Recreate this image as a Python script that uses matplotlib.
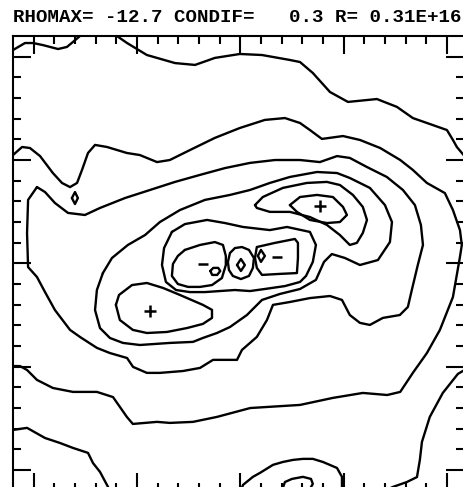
import matplotlib
matplotlib.use('Agg')
import matplotlib.pyplot as plt
from matplotlib.ticker import FixedLocator

# Map header values
rhomax = -12.7
condif = 0.3
r_scale = 0.31

# Map extent in grid units (one tick per grid point, x across, y down)
x_extent = 21.85
y_extent = 22.0

# Contour paths digitised in grid units, (x, y) pairs
corner_lobe = [(0, 0.68), (0.58, 0.34), (0.97, 0.34), (1.45, 0.44), (2.18, 0.63), (2.61, 0.53), (2.90, 0.29), (3.24, 0)]
top_contour = [(5.03, 0), (5.52, 0.34), (6.00, 0.63), (6.48, 0.92), (6.97, 1.06), (7.84, 1.31), (8.81, 1.40),
               (9.77, 1.06), (10.98, 0.87), (12.05, 0.92), (13.40, 1.16), (13.89, 1.26), (14.51, 1.79),
               (15.34, 2.71), (16.21, 3.19), (17.61, 3.05), (18.58, 3.43), (19.35, 3.97), (20.32, 4.31),
               (21.00, 4.55), (21.29, 5.03), (21.48, 5.37), (21.85, 5.81)]
outer_contour = [(0, 5.76), (0.44, 5.37), (0.82, 5.42), (1.31, 5.81), (1.93, 6.63), (2.37, 7.11), (2.76, 7.31),
                 (3.10, 7.11), (3.34, 6.48), (3.63, 5.66), (3.97, 5.27), (4.55, 5.37), (5.51, 5.66), (6.14, 5.76),
                 (6.97, 6.10), (7.59, 6.00), (8.56, 5.52), (9.77, 4.93), (10.98, 4.45), (12.19, 4.06),
                 (13.16, 3.97), (13.89, 4.21), (14.37, 4.55), (14.95, 4.98), (15.97, 4.84), (16.79, 5.03),
                 (17.77, 5.42), (18.74, 6.00), (19.35, 6.48), (20.03, 7.11), (20.90, 7.60), (21.29, 8.42),
                 (21.63, 9.39), (21.72, 10.11), (21.63, 10.69), (21.29, 12.63), (20.66, 14.22), (20.03, 15.34),
                 (19.35, 16.30), (18.74, 17.22), (18.11, 17.37), (16.93, 17.27), (15.48, 17.51), (13.89, 17.85),
                 (11.48, 18.00), (9.87, 18.43), (8.71, 18.67), (7.59, 18.72), (6.97, 18.67), (5.80, 18.77),
                 (5.51, 18.43), (4.84, 17.47), (4.06, 17.22), (2.90, 17.22), (1.93, 17.03), (1.16, 16.64),
                 (0.68, 16.16), (0.34, 15.97), (0, 15.97)]
right_low = [(21.85, 16.16), (21.53, 16.35), (20.80, 17.27), (20.17, 18.43), (19.79, 19.64), (19.69, 20.51),
             (19.55, 21.34), (19.06, 21.58), (18.38, 21.82), (18.00, 22.0)]
left_low = [(0, 19.06), (0.68, 18.96), (1.55, 19.45), (2.27, 19.69), (2.90, 19.93), (3.63, 20.17), (3.87, 20.66),
            (4.21, 21.09), (4.60, 21.82), (4.69, 22.0)]
bottom_bump = [(11.03, 22.0), (11.13, 21.72), (11.61, 21.33), (11.95, 21.14), (12.58, 20.75), (13.06, 20.61),
               (13.55, 20.51), (14.03, 20.46), (14.51, 20.46), (15.00, 20.61), (15.68, 20.90), (15.92, 21.33),
               (15.92, 22.0)]
bottom_inner = [(13.01, 22.0), (13.16, 21.58), (13.50, 21.43), (14.03, 21.33), (14.42, 21.43), (14.51, 21.67),
                (14.32, 22.0)]
left_dimple = [(2.85, 7.84), (3.00, 7.55), (3.14, 7.84), (3.00, 8.13), (2.85, 7.84)]

# Band enclosing both peaks
both_peaks_outer = [(1.16, 7.31), (1.55, 7.55), (2.03, 8.08), (2.66, 8.56), (3.48, 8.66), (4.21, 8.32), (5.42, 7.84),
                    (6.63, 7.45), (7.84, 7.06), (9.05, 6.72), (10.26, 6.39), (11.47, 6.14), (12.68, 6.00),
                    (13.89, 6.00), (14.85, 6.10), (15.68, 5.81), (16.30, 5.90), (17.13, 6.34), (18.09, 6.82),
                    (18.87, 7.45), (19.45, 8.18), (19.74, 9.14), (19.84, 10.11), (19.59, 11.08), (19.30, 12.29),
                    (19.11, 13.11), (18.72, 13.50), (17.90, 13.64), (17.27, 13.98), (16.79, 13.88), (16.30, 13.50),
                    (15.92, 12.77), (15.34, 12.58), (14.37, 12.68), (13.40, 12.87), (12.58, 13.01), (12.29, 13.74),
                    (11.80, 14.56), (11.08, 15.19), (10.84, 15.67), (9.68, 15.67), (9.05, 16.06), (8.22, 16.21),
                    (7.11, 16.30), (6.48, 16.30), (5.81, 16.01), (5.52, 15.58), (4.69, 15.34), (4.06, 15.09),
                    (3.24, 14.56), (2.76, 14.22), (2.03, 13.26), (1.55, 12.39), (1.16, 11.66), (0.73, 11.18),
                    (0.68, 9.53), (0.73, 7.93), (1.16, 7.31)]
both_peaks_mid = [(4.35, 11.47), (4.06, 12.29), (3.97, 13.26), (4.21, 14.13), (4.69, 14.61), (5.32, 14.85),
                  (6.14, 14.95), (7.60, 14.85), (8.71, 14.80), (9.19, 14.61), (9.87, 14.37), (10.50, 14.08),
                  (11.32, 13.50), (11.66, 13.16), (12.05, 12.77), (12.92, 12.48), (13.89, 12.24), (14.66, 11.80),
                  (15.05, 10.93), (15.43, 10.55), (16.06, 10.74), (16.79, 11.08), (17.66, 10.84), (18.24, 9.97),
                  (18.34, 9.00), (18.00, 8.18), (17.27, 7.35), (16.30, 6.87), (15.68, 6.63), (14.71, 6.58),
                  (13.40, 6.82), (12.43, 7.11), (11.47, 7.45), (10.50, 7.69), (9.29, 7.93), (8.08, 8.42),
                  (7.11, 9.00), (6.39, 9.63), (5.56, 10.11), (4.79, 10.74), (4.35, 11.47)]
left_peak_inner = [(4.98, 13.01), (5.13, 12.53), (5.76, 12.05), (6.48, 11.95), (7.26, 12.19), (8.08, 12.53),
                   (9.19, 13.01), (9.63, 13.25), (9.63, 13.64), (9.19, 13.93), (8.42, 14.13), (7.45, 14.32),
                   (6.48, 14.37), (5.80, 14.22), (5.17, 13.74), (4.98, 13.01)]
right_peak_inner = [(13.40, 8.18), (13.89, 7.79), (14.71, 7.69), (15.48, 7.79), (15.97, 8.27), (16.16, 8.66),
                    (15.82, 9.00), (15.19, 9.05), (14.37, 8.90), (13.74, 8.51), (13.40, 8.18)]
right_peak_mid = [(11.71, 8.18), (12.09, 7.79), (13.06, 7.35), (14.22, 7.11), (15.19, 7.06), (15.82, 7.21),
                  (16.45, 7.69), (16.93, 8.27), (17.13, 8.90), (16.93, 9.53), (16.64, 10.01), (16.30, 10.11),
                  (15.82, 9.63), (15.19, 9.14), (14.37, 8.76), (13.40, 8.51), (12.43, 8.51), (11.80, 8.32),
                  (11.71, 8.18)]

# Holes around the origin
hole_rim = [(7.69, 9.48), (8.32, 9.10), (9.39, 8.90), (10.26, 9.05), (11.13, 9.24), (12.43, 9.39), (13.26, 9.24),
            (14.37, 9.48), (14.66, 10.11), (14.51, 10.93), (14.18, 11.61), (13.89, 11.90), (13.16, 12.10),
            (12.19, 12.24), (11.47, 12.34), (10.74, 12.29), (10.01, 12.34), (9.29, 12.39), (8.56, 12.39),
            (7.89, 12.29), (7.40, 11.90), (7.21, 11.08), (7.31, 10.26), (7.69, 9.48)]
hole_left = [(8.32, 10.35), (9.05, 10.11), (9.77, 9.97), (10.16, 10.11), (10.30, 10.64), (10.30, 11.08),
             (10.11, 11.71), (9.63, 12.05), (9.05, 12.14), (8.47, 12.14), (7.98, 12.00), (7.69, 11.61),
             (7.74, 11.03), (7.98, 10.64), (8.32, 10.35)]
hole_left_small = [(9.55, 11.37), (9.69, 11.22), (9.93, 11.22), (10.03, 11.37), (9.88, 11.56), (9.64, 11.56),
                   (9.55, 11.37)]
hole_centre = [(10.40, 10.93), (10.50, 10.50), (10.74, 10.26), (11.08, 10.21), (11.42, 10.35), (11.66, 10.74),
               (11.61, 11.22), (11.42, 11.61), (11.03, 11.76), (10.64, 11.61), (10.45, 11.32), (10.40, 10.93)]
hole_centre_core = [(10.84, 11.08), (11.03, 10.79), (11.22, 11.08), (11.03, 11.37), (10.84, 11.08)]
hole_right = [(11.71, 10.74), (11.80, 10.21), (12.68, 10.01), (13.64, 9.82), (13.79, 10.01), (13.79, 10.74),
              (13.74, 11.47), (12.92, 11.51), (12.05, 11.56), (11.80, 11.22), (11.71, 10.74)]
hole_right_small = [(11.85, 10.64), (12.00, 10.35), (12.19, 10.64), (12.00, 10.93), (11.85, 10.64)]

contours = [corner_lobe, top_contour, outer_contour, right_low, left_low, bottom_bump, bottom_inner,
            left_dimple, both_peaks_outer, both_peaks_mid, left_peak_inner, right_peak_inner, right_peak_mid,
            hole_rim, hole_left, hole_left_small, hole_centre, hole_centre_core, hole_right, hole_right_small]

# Peak / hole markers
plus_x = [14.85, 6.63]
plus_y = [8.22, 13.30]
minus_x = [12.77, 9.20]
minus_y = [10.69, 11.05]

fig = plt.figure(figsize=(4.64, 4.87), dpi=100)
ax = fig.add_axes([13 / 464, -3.7 / 487, 451.5 / 464, 454.7 / 487])

for path in contours:
    xs = [p[0] for p in path]
    ys = [p[1] for p in path]
    ax.plot(xs, ys, color='black', lw=1.7, solid_joinstyle='round', solid_capstyle='round')

ax.plot(plus_x, plus_y, linestyle='none', marker='+', color='black', ms=8, mew=1.8)
ax.plot(minus_x, minus_y, linestyle='none', marker='_', color='black', ms=7, mew=1.8)

ax.set_xlim(0, x_extent)
ax.set_ylim(y_extent, 0)

# Tick marks on every grid point, long ones every fifth
major = [1, 6, 11, 16, 21]
minor = [i for i in range(1, 22) if i not in major]
for axis in (ax.xaxis, ax.yaxis):
    axis.set_major_locator(FixedLocator(major))
    axis.set_minor_locator(FixedLocator(minor))
ax.tick_params(which='both', direction='in', top=True, right=True, bottom=True, left=True,
               labelbottom=False, labelleft=False, width=1.5, color='black')
ax.tick_params(which='major', length=13)
ax.tick_params(which='minor', length=6)
for s in ax.spines.values():
    s.set_linewidth(1.5)

title = 'RHOMAX= %5.1f CONDIF=%6.1f R= %4.2fE+16' % (rhomax, condif, r_scale)
fig.text(13 / 464, 1 - 22 / 487, title, family='Liberation Mono', weight='bold', fontsize=13.8,
         ha='left', va='baseline')

fig.savefig('out.png', dpi=100)
